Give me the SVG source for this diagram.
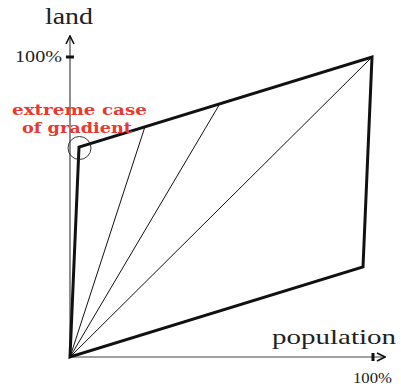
<svg xmlns="http://www.w3.org/2000/svg" width="401" height="387" viewBox="0 0 401 387">
<style>
.ax{stroke:#444;stroke-width:1.2;fill:none}
.thick{stroke:#111;stroke-width:3;fill:none;stroke-linejoin:miter}
.thin{stroke:#111;stroke-width:1;fill:none}
.lbl{font-family:"Liberation Serif","DejaVu Serif",serif;fill:#222}
.red{font-family:"DejaVu Serif","Liberation Serif",serif;font-weight:bold;fill:#e8392f;font-size:14.5px}
</style>
<defs>
<marker id="arr" viewBox="0 0 10 10" refX="9" refY="5" markerWidth="10" markerHeight="10" markerUnits="userSpaceOnUse" orient="auto">
<path d="M1,1 L9,5 L1,9" fill="none" stroke="#111" stroke-width="1.6"/>
</marker>
</defs>
<g id="axes">
<line class="ax" x1="70" y1="357" x2="70" y2="36" marker-end="url(#arr)"/>
<line class="ax" x1="70" y1="357" x2="385" y2="357" marker-end="url(#arr)"/>
<line x1="66" y1="57" x2="74" y2="57" stroke="#111" stroke-width="3"/>
<line x1="373" y1="353" x2="373" y2="361" stroke="#111" stroke-width="3"/>
<text class="lbl" x="45" y="24" font-size="23" textLength="48" lengthAdjust="spacingAndGlyphs">land</text>
<text class="lbl" x="15" y="62" font-size="16" textLength="47" lengthAdjust="spacingAndGlyphs">100%</text>
<text class="lbl" x="272" y="344" font-size="22" textLength="124" lengthAdjust="spacingAndGlyphs">population</text>
<text class="lbl" x="353" y="383" font-size="14" textLength="39" lengthAdjust="spacingAndGlyphs">100%</text>
</g>
<g id="connectors">
<line class="thin" x1="70" y1="357" x2="145" y2="126.5"/>
<line class="thin" x1="70" y1="357" x2="220" y2="103.5"/>
<line class="thin" x1="70" y1="357" x2="372" y2="57"/>
</g>
<g id="region">
<path class="thick" d="M70,357 L79,147 L372,57 L363,267 Z"/>
</g>
<g id="gradient-note">
<circle cx="79.5" cy="148" r="11.5" fill="none" stroke="#222" stroke-width="0.9"/>
<text class="red" x="12" y="115" textLength="135" lengthAdjust="spacingAndGlyphs">extreme case</text>
<text class="red" x="22" y="132.5" textLength="110" lengthAdjust="spacingAndGlyphs">of gradient</text>
</g>
</svg>
